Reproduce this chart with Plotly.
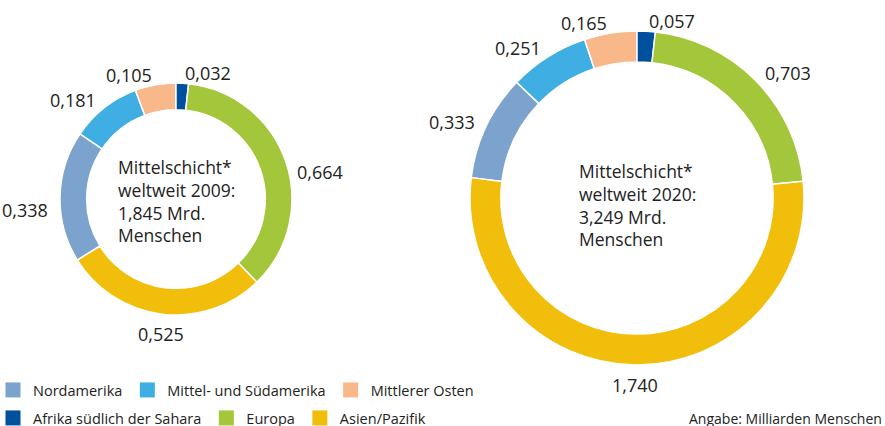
import math
import plotly.graph_objects as go

# ---- data ----
regions = ["Nordamerika", "Mittel- und Südamerika", "Mittlerer Osten",
           "Afrika südlich der Sahara", "Europa", "Asien/Pazifik"]
colors = ["#7BA3CD", "#3FAEE2", "#F9B889", "#00509E", "#A3C63A", "#F1BE0C"]
values_2009 = [0.338, 0.181, 0.105, 0.032, 0.664, 0.525]
values_2020 = [0.333, 0.251, 0.165, 0.057, 0.703, 1.740]
center_2009 = ["Mittelschicht*", "weltweit 2009:", "1,845 Mrd.", "Menschen"]
center_2020 = ["Mittelschicht*", "weltweit 2020:", "3,249 Mrd.", "Menschen"]
note = "Angabe: Milliarden Menschen"
start_region = "Afrika südlich der Sahara"   # slice starting at 12 o'clock
legend_rows = [regions[:3], regions[3:]]

W, H = 885, 426
MB = 56                 # bottom margin reserved for the legend
PH = H - MB             # plot-area height
FONT = "Open Sans"
TXT = "#222222"

# layout of the two donuts (pixel boxes, from top-left of figure)
donuts = [
    dict(vals=values_2009, cx=176, cy=199, r=116, hole=0.77,
         center=center_2009, toff=2),
    dict(vals=values_2020, cx=637, cy=198, r=167, hole=0.815,
         center=center_2020, toff=7),
]

def px2x(px):
    return px / W

def py2y(py):
    return (PH - py) / PH

def fmt(v):
    return f"{v:.3f}".replace(".", ",")

fig = go.Figure()
annotations = []
k0 = regions.index(start_region)
for i, d in enumerate(donuts):
    vals = d["vals"]
    total = sum(vals)
    before = sum(vals[:k0])
    rot = -before / total * 360.0
    cx, cy, r = d["cx"], d["cy"], d["r"]
    fig.add_trace(go.Pie(
        labels=regions, values=vals, sort=False, direction="clockwise",
        rotation=rot, hole=d["hole"],
        marker=dict(colors=colors, line=dict(color="white", width=1.5)),
        textinfo="none", hoverinfo="label+value",
        showlegend=False,
        domain=dict(x=[px2x(cx - r), px2x(cx + r)],
                    y=[py2y(cy + r), py2y(cy - r)]),
    ))
    # value labels outside each slice
    cum = 0.0
    for v in vals:
        mid = (rot + (cum + v / 2) / total * 360.0) * math.pi / 180.0
        cum += v
        sx, sy = math.sin(mid), -math.cos(mid)
        pad = 10
        lx = cx + (r + pad) * sx
        ly = cy + (r + pad) * sy
        if sy > 0.9:
            xa, ya = "center", "top"
            ly = cy + (r + 6) * sy
        else:
            xa = "left" if sx >= 0 else "right"
            ya = "top" if abs(sx) > 0.93 else "middle"
        annotations.append(dict(
            x=px2x(lx), y=py2y(ly), xref="paper", yref="paper",
            text=fmt(v), showarrow=False, xanchor=xa, yanchor=ya,
            font=dict(family=FONT, size=18, color=TXT)))
    # center text
    annotations.append(dict(
        x=px2x(cx), y=py2y(cy + d["toff"]), xref="paper", yref="paper",
        text="<br>".join(d["center"]), showarrow=False,
        xanchor="center", yanchor="middle", align="left",
        font=dict(family=FONT, size=17.5, color=TXT)))

annotations.append(dict(
    x=px2x(884), y=py2y(418), xref="paper", yref="paper", text=note,
    showarrow=False, xanchor="right", yanchor="middle",
    font=dict(family=FONT, size=14, color=TXT)))

# legend entries (no visible data, only legend symbols), two rows
for row, names in enumerate(legend_rows):
    for name in names:
        fig.add_trace(go.Scatter(
            x=[None], y=[None], mode="markers", name=name,
            marker=dict(symbol="square", size=15,
                        color=colors[regions.index(name)]),
            legend="legend" if row == 0 else "legend2",
            hoverinfo="skip",
        ))

leg_common = dict(orientation="h", x=px2x(-7), xanchor="left",
                  yanchor="middle", traceorder="normal",
                  font=dict(family=FONT, size=14.5, color=TXT),
                  itemclick=False, itemdoubleclick=False,
                  bgcolor="rgba(0,0,0,0)")

fig.update_layout(
    width=W, height=H,
    margin=dict(l=0, r=0, t=0, b=MB, autoexpand=False),
    paper_bgcolor="white", plot_bgcolor="white",
    font=dict(family=FONT, color=TXT),
    annotations=annotations,
    xaxis=dict(visible=False, fixedrange=True),
    yaxis=dict(visible=False, fixedrange=True),
    legend=dict(y=py2y(390), **leg_common),
    legend2=dict(y=py2y(418), **leg_common),
)

fig.write_html("out.html", config={"displayModeBar": False},
               post_script="document.body.style.margin='0';")
